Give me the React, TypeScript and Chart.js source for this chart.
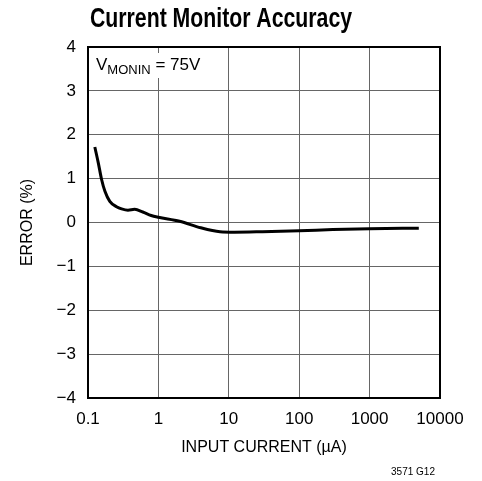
import React, { useEffect, useRef } from "react";
import { Chart, registerables } from "chart.js";

Chart.register(...registerables);

const currentUA = [0.125, 0.14, 0.156, 0.174, 0.204, 0.254, 0.3, 0.37, 0.46, 0.6, 0.79, 1, 2, 4, 7.5, 12, 30, 100, 300, 1000, 5000];
const errorPct = [1.72, 1.36, 0.98, 0.71, 0.48, 0.36, 0.31, 0.28, 0.3, 0.24, 0.16, 0.12, 0.03, -0.12, -0.21, -0.22, -0.21, -0.19, -0.16, -0.14, -0.13];
const xTicks = [0.1, 1, 10, 100, 1000, 10000];
const yTicks = [-4, -3, -2, -1, 0, 1, 2, 3, 4];

const TITLE = "Current Monitor Accuracy";
const X_TITLE = "INPUT CURRENT (\u00b5A)";
const Y_TITLE = "ERROR (%)";
const NOTE_MAIN = "V";
const NOTE_SUB = "MONIN";
const NOTE_REST = " = 75V";
const FIG_ID = "3571 G12";

const SANS = "'Liberation Sans', Arial, sans-serif";

const extrasPlugin = {
  id: "extras",
  afterDraw(chart: any) {
    const { ctx, chartArea } = chart;
    const { left, top, right, bottom } = chartArea;
    ctx.save();
    // condensed bold title
    ctx.save();
    ctx.font = `bold 27px ${SANS}`;
    ctx.fillStyle = "#000";
    ctx.textAlign = "left";
    ctx.textBaseline = "alphabetic";
    const tw = ctx.measureText(TITLE).width;
    const sx = 262 / tw;
    ctx.translate(90, 27);
    ctx.scale(sx, 1);
    ctx.fillText(TITLE, 0, 0);
    ctx.restore();
    // annotation with white backing
    const x0 = left + 8;
    const yBase = top + 23;
    ctx.font = `17px ${SANS}`;
    const wV = ctx.measureText(NOTE_MAIN).width;
    ctx.font = `13px ${SANS}`;
    const wS = ctx.measureText(NOTE_SUB).width;
    ctx.font = `17px ${SANS}`;
    const wR = ctx.measureText(NOTE_REST).width;
    ctx.fillStyle = "#fff";
    ctx.fillRect(x0 - 2, top + 6, wV + wS + wR + 4, 25);
    ctx.fillStyle = "#000";
    ctx.textBaseline = "alphabetic";
    ctx.textAlign = "left";
    ctx.font = `17px ${SANS}`;
    ctx.fillText(NOTE_MAIN, x0, yBase);
    ctx.font = `13px ${SANS}`;
    ctx.fillText(NOTE_SUB, x0 + wV, yBase + 4);
    ctx.font = `17px ${SANS}`;
    ctx.fillText(NOTE_REST, x0 + wV + wS, yBase);
    // frame
    ctx.strokeStyle = "#000";
    ctx.lineWidth = 2;
    ctx.strokeRect(left, top, right - left, bottom - top);
    // figure id
    ctx.font = `10px ${SANS}`;
    ctx.textAlign = "center";
    ctx.textBaseline = "middle";
    ctx.fillText(FIG_ID, 413, 472);
    ctx.restore();
  },
};

export default function App() {
  const ref = useRef<HTMLCanvasElement | null>(null);
  useEffect(() => {
    document.body.style.margin = "0";
    const canvas = ref.current!;
    const chart = new Chart(canvas, {
      type: "line",
      data: {
        datasets: [
          {
            data: currentUA.map((x, i) => ({ x, y: errorPct[i] })),
            borderColor: "#000",
            borderWidth: 3,
            pointRadius: 0,
            tension: 0.4,
            cubicInterpolationMode: "monotone",
            fill: false,
          },
        ],
      },
      options: {
        animation: false,
        responsive: false,
        devicePixelRatio: 1,
        layout: { padding: { top: 47, right: 42, bottom: 0, left: 0 } },
        plugins: {
          legend: { display: false },
          tooltip: { enabled: false },
          title: { display: false, text: TITLE },
        },
        scales: {
          x: {
            type: "logarithmic",
            min: 0.1,
            max: 10000,
            afterBuildTicks: (scale: any) => {
              scale.ticks = xTicks.map((v) => ({ value: v }));
            },
            afterFit: (scale: any) => {
              scale.height = 83;
            },
            ticks: {
              color: "#000",
              font: { family: SANS, size: 17 },
              padding: 11,
              maxRotation: 0,
              autoSkip: false,
              callback: (v: any) => String(v),
            },
            grid: { color: "#666", lineWidth: 1, drawTicks: false },
            border: { display: true, color: "#000", width: 2 },
            title: {
              display: true,
              text: X_TITLE,
              color: "#000",
              font: { family: SANS, size: 16 },
              padding: { top: 0, bottom: 24 },
            },
          },
          y: {
            min: -4,
            max: 4,
            afterBuildTicks: (scale: any) => {
              scale.ticks = yTicks.map((v) => ({ value: v }));
            },
            afterFit: (scale: any) => {
              scale.width = 88;
            },
            ticks: {
              color: "#000",
              font: { family: SANS, size: 17 },
              padding: 12,
              callback: (v: any) => (v < 0 ? "\u2212" + Math.abs(v) : String(v)),
            },
            grid: { color: "#666", lineWidth: 1, drawTicks: false },
            border: { display: true, color: "#000", width: 2 },
            title: {
              display: true,
              text: Y_TITLE,
              color: "#000",
              font: { family: SANS, size: 16 },
              padding: { top: 18, bottom: 0 },
            },
          },
        },
      },
      plugins: [extrasPlugin],
    } as any);
    return () => chart.destroy();
  }, []);
  return (
    <div style={{ width: 482, height: 481 }}>
      <canvas ref={ref} width={482} height={481} style={{ display: "block" }} />
    </div>
  );
}
